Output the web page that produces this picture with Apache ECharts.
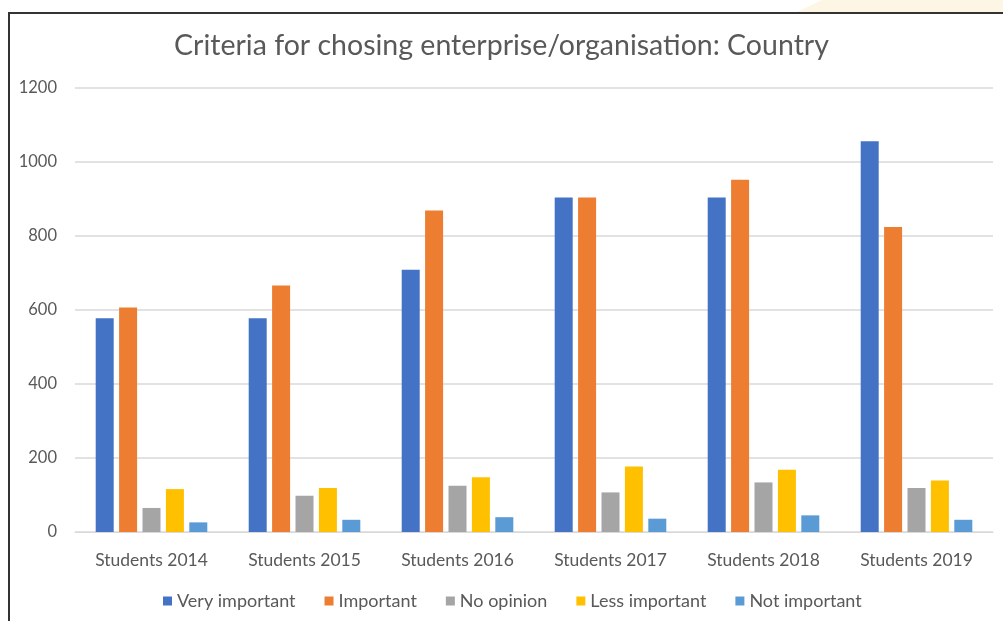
<!DOCTYPE html>
<html>
<head>
<meta charset="utf-8">
<script src="https://cdn.jsdelivr.net/npm/echarts@6/dist/echarts.min.js"></script>
<style>
html,body{margin:0;padding:0;background:#fff;}
#chart{width:1003px;height:621px;}
</style>
</head>
<body>
<div id="chart"></div>
<script>
const categories = ['Students 2014','Students 2015','Students 2016','Students 2017','Students 2018','Students 2019'];
const veryImportant = [578, 578, 709, 904, 904, 1056];
const important = [607, 666, 869, 904, 952, 824];
const noOpinion = [65, 98, 125, 107, 134, 119];
const lessImportant = [116, 119, 148, 177, 168, 139];
const notImportant = [26, 33, 40, 36, 45, 33];
const seriesNames = ['Very important','Important','No opinion','Less important','Not important'];
const colors = ['#4472C4','#ED7D31','#A5A5A5','#FFC000','#5B9BD5'];
const seriesData = [veryImportant, important, noOpinion, lessImportant, notImportant];

const chart = echarts.init(document.getElementById('chart'));
const font = 'Lato, "Open Sans", sans-serif';
chart.setOption({
  animation: false,
  color: colors,
  textStyle: {fontFamily: font},
  title: {
    text: 'Criteria for chosing enterprise/organisation: Country',
    left: 'center', top: 26,
    textStyle: {fontFamily: font, fontSize: 28.5, fontWeight: 'normal', color: '#595959'}
  },
  legend: {
    bottom: 6, left: 158,
    itemWidth: 9, itemHeight: 9, itemGap: 29,
    icon: 'rect',
    textStyle: {fontFamily: font, fontSize: 18, color: '#595959'},
    data: seriesNames
  },
  grid: {left: 75, right: 10, top: 88, bottom: 89, containLabel: false},
  xAxis: {
    type: 'category', data: categories,
    axisLine: {lineStyle: {color: '#D9D9D9'}},
    axisTick: {show: false},
    axisLabel: {fontFamily: font, fontSize: 17.5, color: '#595959', margin: 19}
  },
  yAxis: {
    type: 'value', min: 0, max: 1200, interval: 200,
    axisLine: {show: false}, axisTick: {show: false},
    splitLine: {lineStyle: {color: '#D9D9D9', width: 1.5}},
    axisLabel: {fontFamily: font, fontSize: 16.5, color: '#595959', margin: 18,
      formatter: v => String(v)}
  },
  series: seriesData.map((d, i) => ({
    name: seriesNames[i], type: 'bar', data: d,
    barWidth: 18, barGap: '30%'
  })),
  graphic: [
    {type: 'polygon', shape: {points: [[822,0],[1003,0],[1003,13],[795,13]]}, style: {fill: '#FEF6E4'}, silent: true, z: -1},
    {type: 'line', shape: {x1: 8, y1: 13, x2: 1003, y2: 13}, style: {stroke: '#333', lineWidth: 2}, silent: true},
    {type: 'line', shape: {x1: 9, y1: 12, x2: 9, y2: 621}, style: {stroke: '#333', lineWidth: 2}, silent: true}
  ]
});
</script>
</body>
</html>
